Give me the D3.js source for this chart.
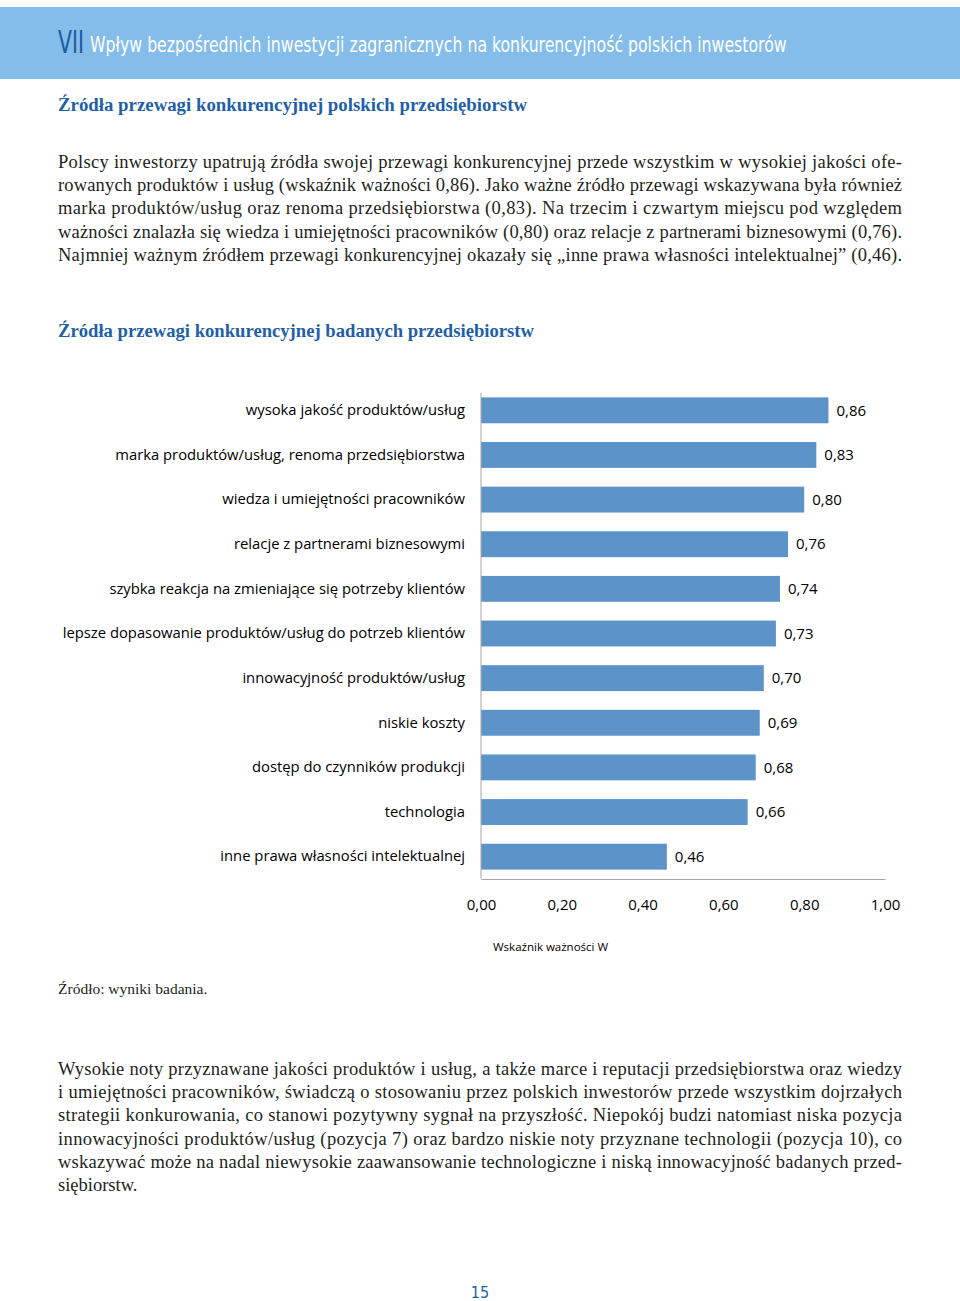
<!DOCTYPE html>
<html>
<head>
<meta charset="utf-8">
<script src="https://cdn.jsdelivr.net/npm/d3@7"></script>
<style>
  body { margin: 0; background: #fff; }
  svg { display: block; }
</style>
</head>
<body>
<div id="page"></div>
<script>
var svgWidth = 960;
var svgHeight = 1301;

// chart data
var categories = [
  "wysoka jakość produktów/usług",
  "marka produktów/usług, renoma przedsiębiorstwa",
  "wiedza i umiejętności pracowników",
  "relacje z partnerami biznesowymi",
  "szybka reakcja na zmieniające się potrzeby klientów",
  "lepsze dopasowanie produktów/usług do potrzeb klientów",
  "innowacyjność produktów/usług",
  "niskie koszty",
  "dostęp do czynników produkcji",
  "technologia",
  "inne prawa własności intelektualnej"
];
var values = [0.86, 0.83, 0.80, 0.76, 0.74, 0.73, 0.70, 0.69, 0.68, 0.66, 0.46];
var xTicks = [0, 0.2, 0.4, 0.6, 0.8, 1.0];
var xAxisTitle = "Wskaźnik ważności W";

// page texts
var headerNumber = "VII";
var headerTitle = "Wpływ bezpośrednich inwestycji zagranicznych na konkurencyjność polskich inwestorów";
var heading1 = "Źródła przewagi konkurencyjnej polskich przedsiębiorstw";
var heading2 = "Źródła przewagi konkurencyjnej badanych przedsiębiorstw";
var para1 = [
  "Polscy inwestorzy upatrują źródła swojej przewagi konkurencyjnej przede wszystkim w wysokiej jakości ofe-",
  "rowanych produktów i usług (wskaźnik ważności 0,86). Jako ważne źródło przewagi wskazywana była również",
  "marka produktów/usług oraz renoma przedsiębiorstwa (0,83). Na trzecim i czwartym miejscu pod względem",
  "ważności znalazła się wiedza i umiejętności pracowników (0,80) oraz relacje z partnerami biznesowymi (0,76).",
  "Najmniej ważnym źródłem przewagi konkurencyjnej okazały się „inne prawa własności intelektualnej” (0,46)."
];
var sourceNote = "Źródło: wyniki badania.";
var para2 = [
  "Wysokie noty przyznawane jakości produktów i usług, a także marce i reputacji przedsiębiorstwa oraz wiedzy",
  "i umiejętności pracowników, świadczą o stosowaniu przez polskich inwestorów przede wszystkim dojrzałych",
  "strategii konkurowania, co stanowi pozytywny sygnał na przyszłość. Niepokój budzi natomiast niska pozycja",
  "innowacyjności produktów/usług (pozycja 7) oraz bardzo niskie noty przyznane technologii (pozycja 10), co",
  "wskazywać może na nadal niewysokie zaawansowanie technologiczne i niską innowacyjność badanych przed-",
  "siębiorstw."
];
var pageNumber = "15";

var serif = "'Liberation Serif', 'DejaVu Serif', serif";
var sans = "'Open Sans', 'Noto Sans', sans-serif";
var cond = "'DejaVu Sans Condensed', 'DejaVu Sans', sans-serif";
var blue = "#1f5fa8";

var svg = d3.select("#page")
  .append("svg")
  .attr("width", svgWidth)
  .attr("height", svgHeight);

// header band
svg.append("rect")
  .attr("x", 0).attr("y", 7)
  .attr("width", svgWidth).attr("height", 72)
  .attr("fill", "#84bde9");

// condensed text: squeeze a normal font to the width seen in the picture
function squeezed(txt, x, y, size, w, color) {
  var g = svg.append("g");
  var t = g.append("text")
    .attr("font-family", cond)
    .attr("font-size", size)
    .attr("fill", color)
    .text(txt);
  var natural = t.node().getComputedTextLength();
  g.attr("transform", `translate(${x}, ${y}) scale(${w / natural}, 1)`);
  return g;
}
squeezed(headerNumber, 58, 53, 32, 26, "#1d5ba6");
squeezed(headerTitle, 90, 52, 22, 697, "#ffffff");

// headings
function heading(txt, y, w) {
  svg.append("text")
    .attr("x", 58).attr("y", y)
    .attr("font-family", serif)
    .attr("font-weight", "bold")
    .attr("font-size", 18)
    .attr("textLength", w).attr("lengthAdjust", "spacingAndGlyphs")
    .attr("fill", blue)
    .text(txt);
}
heading(heading1, 111, 469);
heading(heading2, 337, 476);

// justified paragraphs, one text per line
function paragraph(lines, y0, lastJustified) {
  lines.forEach(function(line, i) {
    var t = svg.append("text")
      .attr("x", 58).attr("y", y0 + i * 23.2)
      .attr("font-family", serif)
      .attr("font-size", 18.5)
      .attr("fill", "#231f20")
      .text(line);
    if (i < lines.length - 1 || lastJustified) {
      t.attr("textLength", 844).attr("lengthAdjust", "spacing");
    }
  });
}
paragraph(para1, 168, true);
paragraph(para2, 1075, false);

svg.append("text")
  .attr("x", 58).attr("y", 994)
  .attr("font-family", serif)
  .attr("font-size", 15.5)
  .attr("fill", "#231f20")
  .text(sourceNote);

svg.append("text")
  .attr("x", 480).attr("y", 1298)
  .attr("text-anchor", "middle")
  .attr("font-family", cond)
  .attr("font-size", 16)
  .attr("fill", blue)
  .text(pageNumber);

// chart
var xScale = d3.scaleLinear()
  .domain([0, 1])
  .range([481, 885]);

var yScale = d3.scaleBand()
  .domain(categories)
  .range([388, 879])
  .paddingInner(0.42)
  .paddingOuter(0.21);

var fmt = function(v) { return d3.format(".2f")(v).replace(".", ","); };

var chartGroup = svg.append("g");

chartGroup.selectAll("rect.bar")
  .data(values)
  .enter()
  .append("rect")
  .attr("class", "bar")
  .attr("x", xScale(0))
  .attr("y", (d, i) => yScale(categories[i]))
  .attr("width", d => xScale(d) - xScale(0))
  .attr("height", yScale.bandwidth())
  .attr("fill", "#5c94c9");

chartGroup.selectAll("text.val")
  .data(values)
  .enter()
  .append("text")
  .attr("class", "val")
  .attr("x", d => xScale(d) + 8)
  .attr("y", (d, i) => yScale(categories[i]) + yScale.bandwidth() / 2)
  .attr("dy", "0.35em")
  .attr("font-family", sans)
  .attr("font-size", 15)
  .attr("fill", "#000")
  .text(fmt);

var bottomAxis = d3.axisBottom(xScale)
  .tickValues(xTicks)
  .tickSize(0)
  .tickPadding(20)
  .tickFormat(fmt);

var leftAxis = d3.axisLeft(yScale)
  .tickSize(0)
  .tickPadding(16);

var xAxis = chartGroup.append("g")
  .attr("transform", "translate(0, 879)")
  .call(bottomAxis);

var yAxis = chartGroup.append("g")
  .attr("transform", "translate(481, 0)")
  .call(leftAxis);

yAxis.select(".domain").attr("d", "M0,393V879");

[xAxis, yAxis].forEach(function(ax) {
  ax.select(".domain").attr("stroke", "#a6a6a6");
  ax.selectAll("text")
    .attr("font-family", sans)
    .attr("fill", "#000");
});
xAxis.selectAll("text").attr("font-size", 15);
yAxis.selectAll("text").attr("font-size", 14.8);

chartGroup.append("text")
  .attr("x", 493).attr("y", 951)
  .attr("font-family", sans)
  .attr("font-size", 11.5)
  .attr("fill", "#000")
  .text(xAxisTitle);
</script>
</body>
</html>
